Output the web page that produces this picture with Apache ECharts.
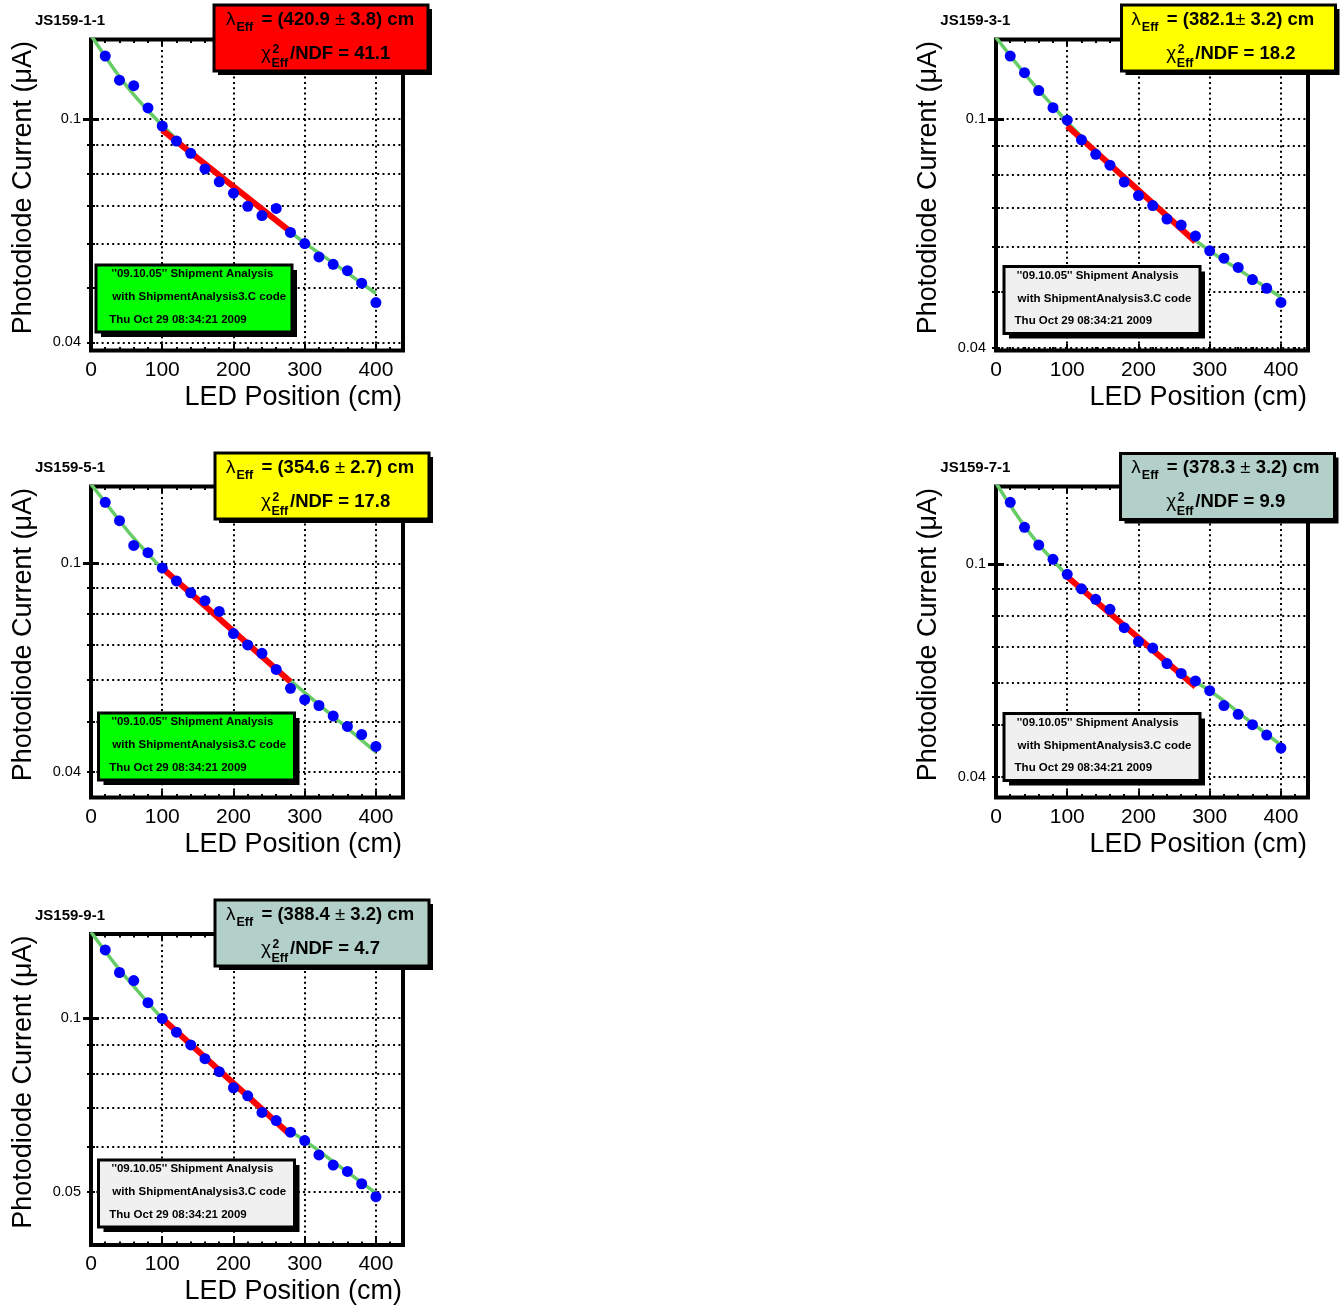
<!DOCTYPE html>
<html>
<head>
<meta charset="utf-8">
<script src="https://cdn.jsdelivr.net/npm/echarts@6/dist/echarts.min.js"></script>
<style>
html,body{margin:0;padding:0;background:#fff;}
#chart{width:1342px;height:1309px;}
</style>
</head>
<body>
<div id="chart"></div>
<script>
// ---------------- data ----------------
const panelNames = ['JS159-1-1', 'JS159-3-1', 'JS159-5-1', 'JS159-7-1', 'JS159-9-1'];

const ledPosition = [20, 40, 60, 80, 100, 120, 140, 160, 180, 200, 220, 240, 260, 280, 300, 320, 340, 360, 380, 400];

const current_JS159_1_1 = [0.1295, 0.1173, 0.1147, 0.1047, 0.0972, 0.0914, 0.0869, 0.0815, 0.0773, 0.0738, 0.0699, 0.0673, 0.0693, 0.0628, 0.0600, 0.0568, 0.0551, 0.0537, 0.0510, 0.0471];
const current_JS159_3_1 = [0.1286, 0.1203, 0.1120, 0.1046, 0.0995, 0.0920, 0.0868, 0.0831, 0.0777, 0.0736, 0.0707, 0.0670, 0.0654, 0.0626, 0.0590, 0.0573, 0.0552, 0.0526, 0.0508, 0.0480];
const current_JS159_5_1 = [0.1307, 0.1206, 0.1082, 0.1048, 0.0980, 0.0926, 0.0879, 0.0849, 0.0810, 0.0735, 0.0699, 0.0674, 0.0628, 0.0578, 0.0550, 0.0536, 0.0512, 0.0489, 0.0472, 0.0448];
const current_JS159_7_1 = [0.1307, 0.1173, 0.1087, 0.1022, 0.0958, 0.0900, 0.0860, 0.0824, 0.0761, 0.0717, 0.0697, 0.0652, 0.0625, 0.0605, 0.0580, 0.0544, 0.0524, 0.0501, 0.0479, 0.0453];
const current_JS159_9_1 = [0.1313, 0.1200, 0.1162, 0.1064, 0.0999, 0.0946, 0.0899, 0.0851, 0.0808, 0.0758, 0.0734, 0.0687, 0.0665, 0.0635, 0.0614, 0.0580, 0.0557, 0.0543, 0.0517, 0.0491];

// full fit curve (green)
const fitPosition = [0, 20, 40, 60, 80, 100, 150, 200, 250, 300, 350, 400];
const fit_JS159_1_1 = [0.1410, 0.1293, 0.1190, 0.1105, 0.1036, 0.0975, 0.0850, 0.0755, 0.0672, 0.0602, 0.0543, 0.0489];
const fit_JS159_3_1 = [0.1385, 0.1288, 0.1200, 0.1122, 0.1053, 0.0988, 0.0856, 0.0750, 0.0658, 0.0590, 0.0538, 0.0490];
const fit_JS159_5_1 = [0.1415, 0.1307, 0.1206, 0.1117, 0.1043, 0.0978, 0.0855, 0.0745, 0.0650, 0.0567, 0.0498, 0.0437];
const fit_JS159_7_1 = [0.1420, 0.1290, 0.1180, 0.1090, 0.1018, 0.0955, 0.0832, 0.0727, 0.0636, 0.0580, 0.0516, 0.0459];
const fit_JS159_9_1 = [0.1410, 0.1306, 0.1214, 0.1135, 0.1064, 0.1000, 0.0877, 0.0769, 0.0675, 0.0614, 0.0553, 0.0498];

// exponential fit segment (red), 100..280 cm
const expFitPosition = [100, 280];
const expFit_JS159_1_1 = [0.0956, 0.0630];
const expFit_JS159_3_1 = [0.0972, 0.0612];
const expFit_JS159_5_1 = [0.0980, 0.0595];
const expFit_JS159_7_1 = [0.0948, 0.0590];
const expFit_JS159_9_1 = [0.0999, 0.0628];

const lambdaText = ['(420.9 ± 3.8) cm', '(382.1± 3.2) cm', '(354.6 ± 2.7) cm', '(378.3 ± 3.2) cm', '(388.4 ± 3.2) cm'];
const chi2Text = ['41.1', '18.2', '17.8', '9.9', '4.7'];
const statsColor = ['#ff0000', '#ffff00', '#ffff00', '#b2d0c8', '#b2d0c8'];
const infoColor = ['#00ff00', '#f0f0f0', '#00ff00', '#f0f0f0', '#f0f0f0'];
const infoLines = ["''09.10.05'' Shipment Analysis", 'with ShipmentAnalysis3.C code', 'Thu Oct 29 08:34:21 2009'];

const xTickLabels = [0, 100, 200, 300, 400];
const xMinorTicks = [0, 20, 40, 60, 80, 100, 120, 140, 160, 180, 200, 220, 240, 260, 280, 300, 320, 340, 360, 380, 400, 420];
const yTickValues = [0.04, 0.05, 0.06, 0.07, 0.08, 0.09, 0.1];
const yMajorTicks = [0.1];
const yLabelValues = [[0.04, 0.1], [0.04, 0.1], [0.04, 0.1], [0.04, 0.1], [0.05, 0.1]];
const yAxisMin = [0.0387, 0.0396, 0.0358, 0.0366, 0.0405];
const yAxisMax = [0.1386, 0.1374, 0.1401, 0.1399, 0.1399];
const xAxisMin = 0;
const xAxisMax = 438;
const xAxisTitle = 'LED Position (cm)';
const yAxisTitle = 'Photodiode Current (\u03BCA)';

const currents = [current_JS159_1_1, current_JS159_3_1, current_JS159_5_1, current_JS159_7_1, current_JS159_9_1];
const fits = [fit_JS159_1_1, fit_JS159_3_1, fit_JS159_5_1, fit_JS159_7_1, fit_JS159_9_1];
const expFits = [expFit_JS159_1_1, expFit_JS159_3_1, expFit_JS159_5_1, expFit_JS159_7_1, expFit_JS159_9_1];

// ---------------- layout ----------------
const FONT = '"Liberation Sans", Arial, Helvetica, sans-serif';
const GW = 312, GH = 311;
const layout = [
  {gx: 91,  gy: 39.5,  sx: 214,    sy: 5,     ix: 96,   iy: 265,   col: 0},
  {gx: 996, gy: 39.5,  sx: 1121.5, sy: 5,     ix: 1004, iy: 266.5, col: 905.3},
  {gx: 91,  gy: 486.5, sx: 215,    sy: 453,   ix: 98.5, iy: 713,   col: 0},
  {gx: 996, gy: 486.5, sx: 1120.5, sy: 453.5, ix: 1004, iy: 713.5, col: 905.3},
  {gx: 91,  gy: 934,   sx: 215,    sy: 900,   ix: 98.5, iy: 1160,  col: 0}
];
const DOT = [2, 3.3];

const grids = [], xAxes = [], yAxes = [], series = [], graphics = [];

function txt(x, y, text, size, weight, align, vAlign, extra) {
  return Object.assign({
    type: 'text', x: x, y: y, z: 102,
    style: {
      text: text, fill: '#000', fontSize: size, fontWeight: weight, fontFamily: FONT,
      align: align, textAlign: align, verticalAlign: vAlign, textVerticalAlign: vAlign
    }
  }, extra || {});
}

panelNames.forEach(function (name, i) {
  const L = layout[i];
  grids.push({
    left: L.gx, top: L.gy, width: GW, height: GH,
    show: true, borderColor: '#000', borderWidth: 4, backgroundColor: 'rgba(0,0,0,0)',
    containLabel: false, outerBoundsMode: 'none'
  });

  const xi = xAxes.length;
  const xBase = {gridIndex: i, type: 'value', min: xAxisMin, max: xAxisMax,
    axisLine: {show: false}, splitLine: {show: false}, axisLabel: {show: false}};
  const xMajTick = {show: true, inside: true, length: 7, customValues: xTickLabels, lineStyle: {color: '#000', width: 2}};
  const xMinTick = {show: true, inside: true, length: 3.5, customValues: xMinorTicks, lineStyle: {color: '#000', width: 2}};
  xAxes.push(Object.assign({}, xBase, {
    position: 'bottom', axisTick: xMajTick,
    axisLabel: {show: true, customValues: xTickLabels, fontSize: 21, fontFamily: FONT, color: '#000', margin: 9},
    splitLine: {show: true, lineStyle: {color: '#000', width: 2, type: DOT}}
  }));
  xAxes.push(Object.assign({}, xBase, {position: 'top', axisTick: xMajTick}));
  xAxes.push(Object.assign({}, xBase, {position: 'bottom', axisTick: xMinTick}));
  xAxes.push(Object.assign({}, xBase, {position: 'top', axisTick: xMinTick}));

  const yi = yAxes.length;
  const yBase = {gridIndex: i, type: 'log', logBase: 10, min: yAxisMin[i], max: yAxisMax[i],
    axisLine: {show: false}, splitLine: {show: false}, axisLabel: {show: false}};
  const yMinTick = {show: true, inside: true, length: 4, customValues: yTickValues, lineStyle: {color: '#000', width: 2}};
  const yMajTick = {show: true, inside: true, length: 8, customValues: yMajorTicks, lineStyle: {color: '#000', width: 3}};
  yAxes.push(Object.assign({}, yBase, {
    position: 'left', axisTick: yMinTick,
    axisLabel: {show: true, customValues: yLabelValues[i], fontSize: 14.5, fontFamily: FONT, color: '#000', margin: 10,
      formatter: function (v) { return String(+(+v).toPrecision(3)); }},
    splitLine: {show: true, lineStyle: {color: '#000', width: 2, type: DOT}}
  }));
  yAxes.push(Object.assign({}, yBase, {position: 'right', axisTick: yMinTick}));
  yAxes.push(Object.assign({}, yBase, {position: 'left', axisTick: yMajTick}));
  yAxes.push(Object.assign({}, yBase, {position: 'right', axisTick: yMajTick}));

  series.push({
    type: 'line', xAxisIndex: xi, yAxisIndex: yi, smooth: true, symbol: 'none', z: 3,
    lineStyle: {color: '#66cc66', width: 3.5},
    data: fitPosition.map(function (x, j) { return [x, fits[i][j]]; })
  });
  series.push({
    type: 'line', xAxisIndex: xi, yAxisIndex: yi, symbol: 'none', z: 4,
    lineStyle: {color: '#ff0000', width: 6},
    data: expFitPosition.map(function (x, j) { return [x, expFits[i][j]]; })
  });
  series.push({
    type: 'scatter', xAxisIndex: xi, yAxisIndex: yi, z: 5,
    symbol: 'circle', symbolSize: 11, itemStyle: {color: '#0000ff', opacity: 1},
    data: ledPosition.map(function (x, j) { return [x, currents[i][j]]; })
  });

  // panel name
  graphics.push(txt(L.col + 35, L.gy - 18.5, name, 15, 'bold', 'left', 'middle'));
  // axis titles
  graphics.push(txt(L.gx - 67, L.gy + 1.5, yAxisTitle, 27, 'normal', 'right', 'middle', {rotation: Math.PI / 2}));
  graphics.push(txt(L.gx + GW - 1, L.gy + GH + 47, xAxisTitle, 27, 'normal', 'right', 'middle'));

  // stats box
  const SW = 214, SH = 66, SO = 4;
  graphics.push({type: 'rect', z: 100, shape: {x: L.sx + SO, y: L.sy + SO, width: SW, height: SH}, style: {fill: '#000'}});
  graphics.push({type: 'rect', z: 101, shape: {x: L.sx, y: L.sy, width: SW, height: SH}, style: {fill: statsColor[i], stroke: '#000', lineWidth: 3}});
  const parts = lambdaText[i].split('\u00B1');
  const l1 = L.sy + 14.5, l2 = L.sy + 48.5;
  graphics.push(txt(L.col + 226, l1, '\u03BB', 19, 'normal', 'left', 'middle'));
  graphics.push(txt(L.col + 236.5, l1 + 8, 'Eff', 12.5, 'bold', 'left', 'middle'));
  graphics.push({
    type: 'text', x: L.col + 261.5, y: l1, z: 102,
    style: {
      text: '{b|= ' + parts[0] + '}{s|\u00B1}{b|' + parts[1] + '}',
      align: 'left', textAlign: 'left', verticalAlign: 'middle', textVerticalAlign: 'middle',
      rich: {
        b: {fontSize: 18.5, fontWeight: 'bold', fontFamily: FONT, fill: '#000', color: '#000'},
        s: {fontSize: 18.5, fontWeight: 'normal', fontFamily: FONT, fill: '#000', color: '#000'}
      }
    }
  });
  graphics.push(txt(L.col + 261, l2, '\u03C7', 19, 'normal', 'left', 'middle'));
  graphics.push(txt(L.col + 272.5, l2 - 4, '2', 12, 'bold', 'left', 'middle'));
  graphics.push(txt(L.col + 271.5, l2 + 10, 'Eff', 12.5, 'bold', 'left', 'middle'));
  graphics.push(txt(L.col + 290, l2, '/NDF = ' + chi2Text[i], 18.5, 'bold', 'left', 'middle'));

  // info box
  const IW = 196, IH = 67, IO = 5;
  graphics.push({type: 'rect', z: 100, shape: {x: L.ix + IO, y: L.iy + IO, width: IW, height: IH}, style: {fill: '#000'}});
  graphics.push({type: 'rect', z: 101, shape: {x: L.ix, y: L.iy, width: IW, height: IH}, style: {fill: infoColor[i], stroke: '#000', lineWidth: 3}});
  const ixs = [111.5, 112.3, 109.3];
  const iys = [9, 32, 54.5];
  infoLines.forEach(function (t, k) {
    graphics.push(txt(L.col + ixs[k], L.iy + iys[k], t, 11.5, 'bold', 'left', 'middle'));
  });
});

const chart = echarts.init(document.getElementById('chart'), null, {renderer: 'canvas'});
chart.setOption({
  animation: false,
  backgroundColor: '#ffffff',
  grid: grids,
  xAxis: xAxes,
  yAxis: yAxes,
  series: series,
  graphic: graphics
});
</script>
</body>
</html>
